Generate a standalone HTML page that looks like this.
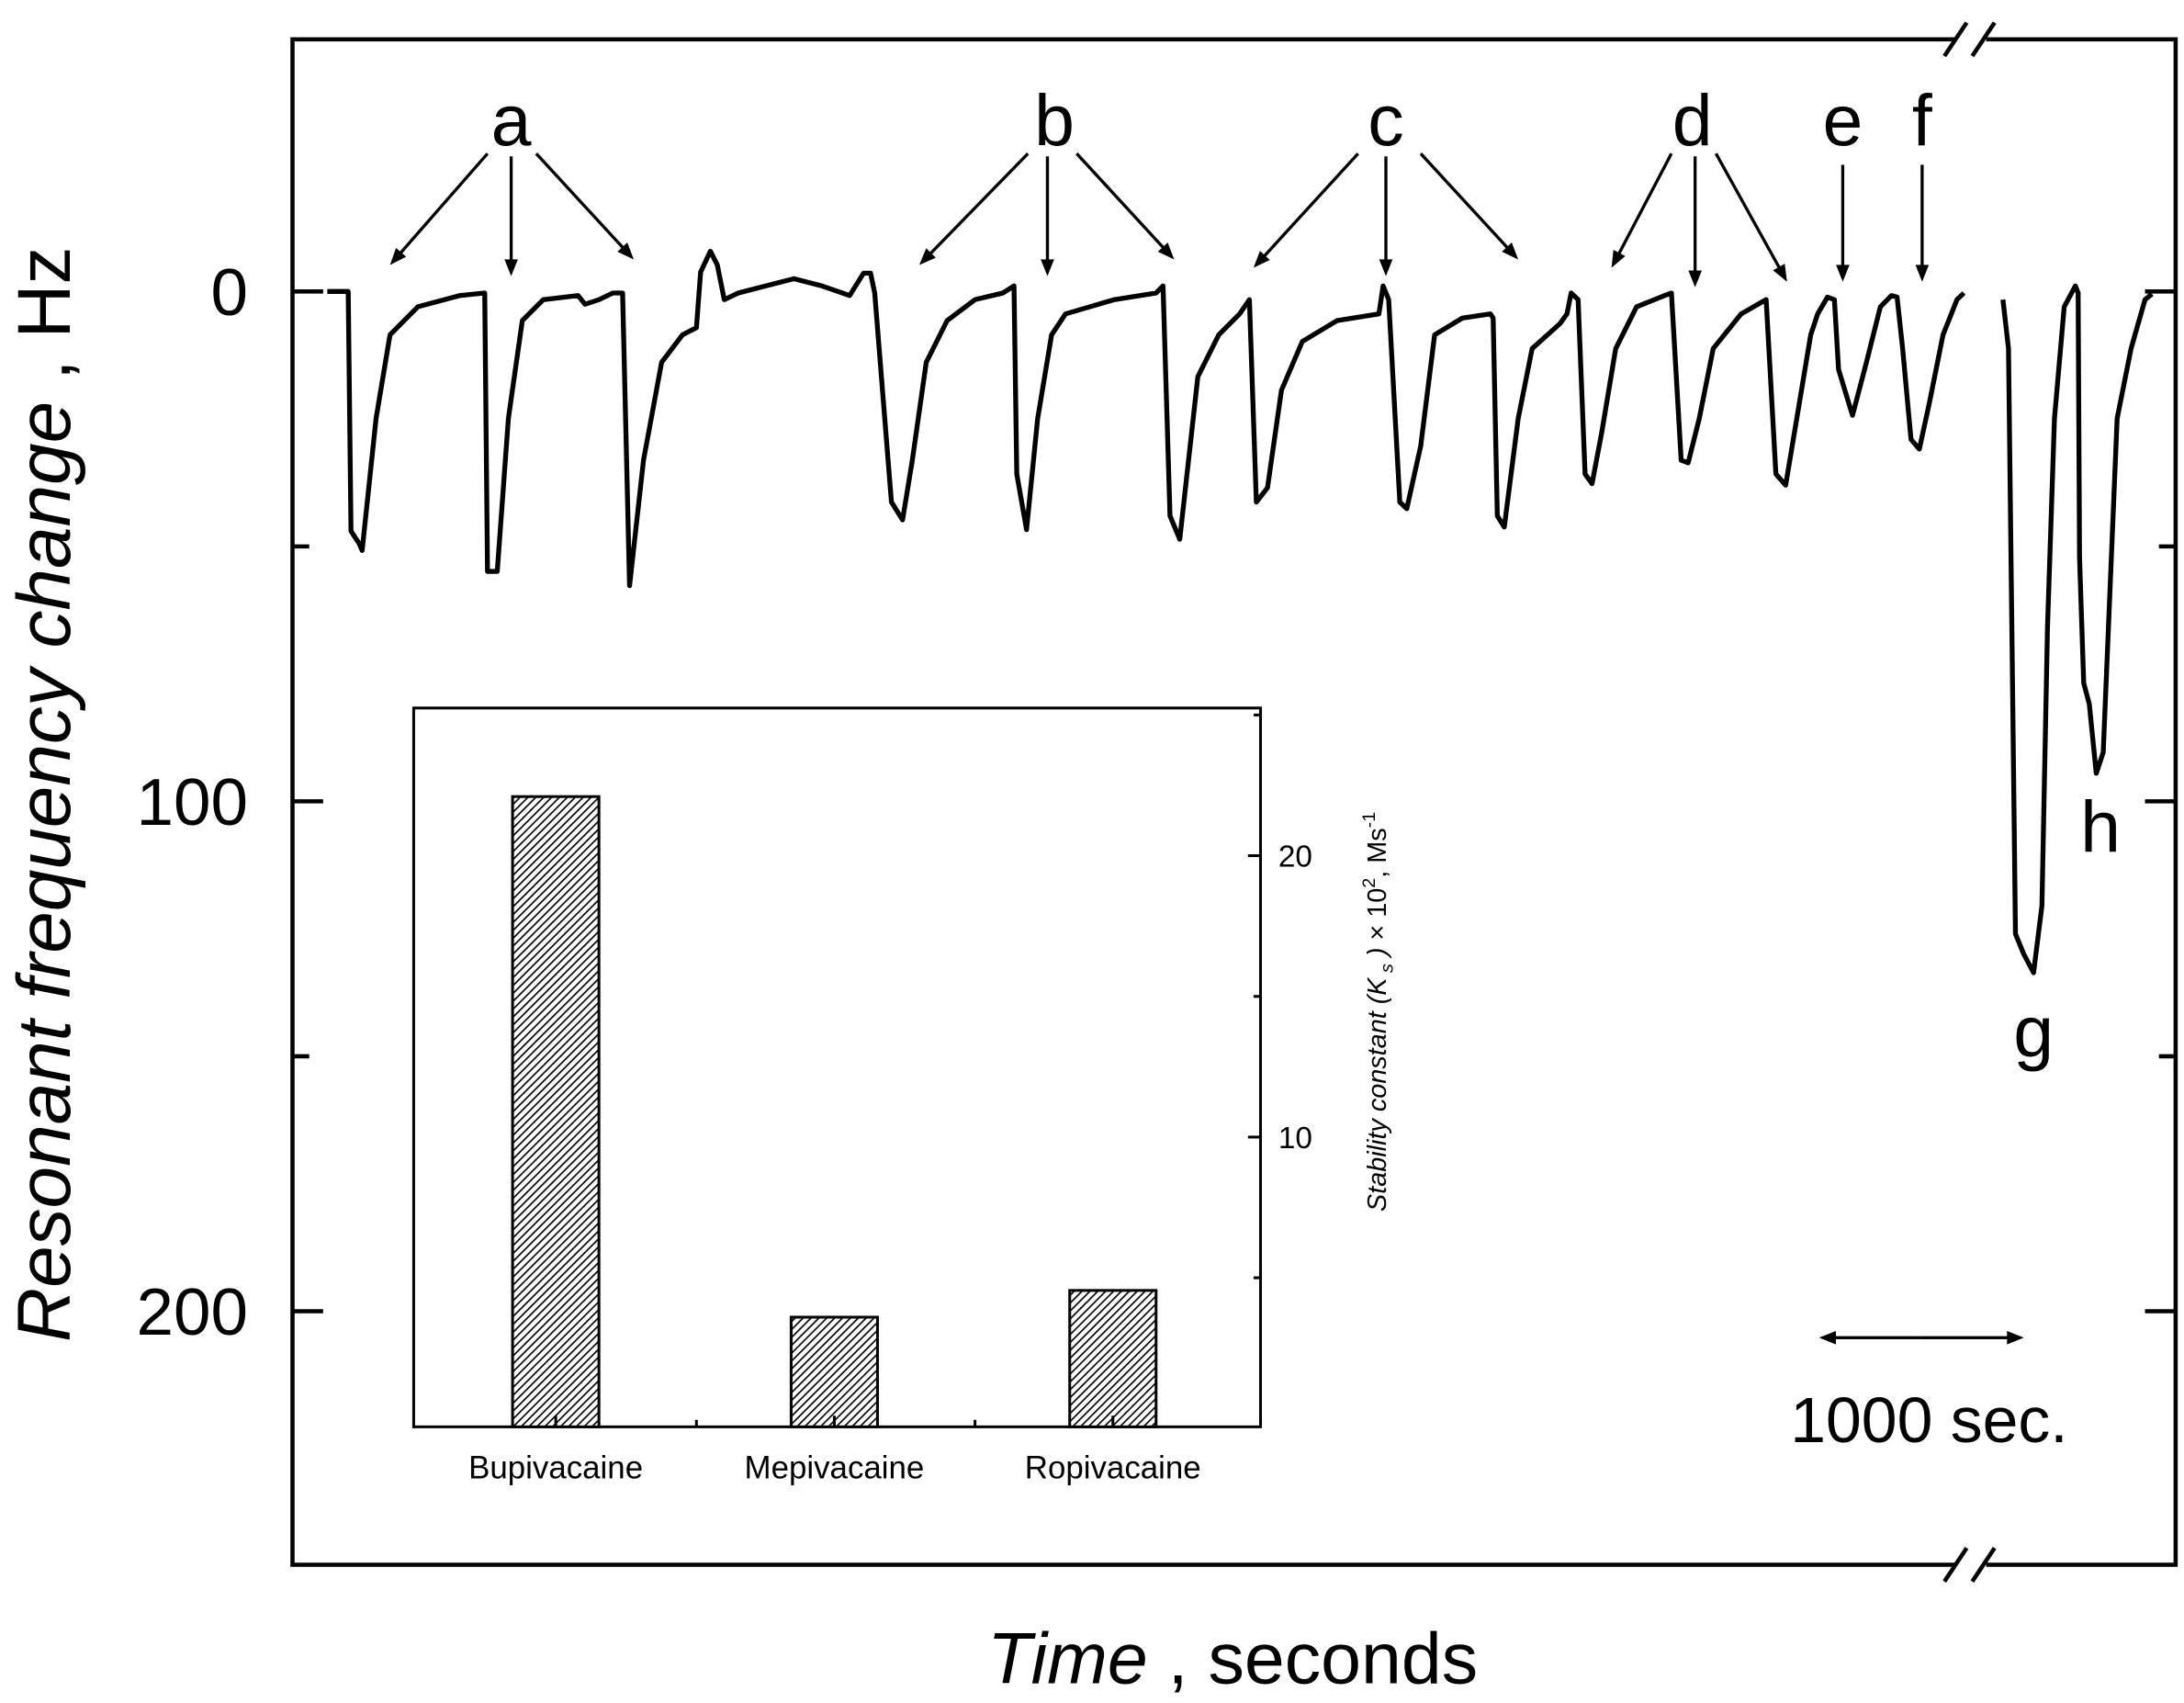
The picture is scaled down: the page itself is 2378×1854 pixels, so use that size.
<!DOCTYPE html>
<html><head><meta charset="utf-8"><style>
html,body{margin:0;padding:0;background:#fff;}
svg{display:block;}
text{font-family:"Liberation Sans",Arial,sans-serif;fill:#000;}
</style></head><body>
<svg id="chart" width="2378" height="1854" viewBox="0 0 1568 1222" xmlns="http://www.w3.org/2000/svg">
<rect width="1568" height="1222" fill="#fff"/>
<defs>
<pattern id="hatch" patternUnits="userSpaceOnUse" width="4" height="4" patternTransform="rotate(45)">
<rect width="4" height="4" fill="#fff"/><line x1="0" y1="0" x2="0" y2="4" stroke="#000" stroke-width="2.2"/>
</pattern>
</defs>
<g id="frame">
<rect x="210" y="28" width="1352" height="1095" fill="none" stroke="#000" stroke-width="3"/>
</g>
<g id="axes"></g>
<g id="trace"></g>
<g id="inset"></g>
<g id="annot"></g>
<text transform="translate(50,570) rotate(-90)" text-anchor="middle" font-size="54"><tspan font-style="italic">Resonant frequency change</tspan> , Hz</text>
<text x="885" y="1208" text-anchor="middle" font-size="52"><tspan font-style="italic">Time</tspan> , seconds</text>
</svg>
<script>
const NS='http://www.w3.org/2000/svg';
// main chart data
const yTicks=[0,100,200];
const yMinor=[50,150,250];
const seg1T=[0,15,17,23,25,35,45,65,95,113,115,122,130,140,155,180,185,195,205,212,217,227,240,255,265,268,275,280,285,295,315,335,355,375,385,390,393,405,413,420,430,445,465,485,493,495,502,510,520,530,565,595,600,605,612,625,640,655,662,667,675,685,700,725,755,758,762,770,775,785,795,815,835,837,840,845,855,865,885,890,893,898,903,908,915,925,940,960,965,972,977,985,995,1015,1033,1040,1047,1055,1065,1070,1077,1082,1085,1095,1105,1115,1123,1127,1131,1137,1143,1150,1160,1170,1175];
const seg1Hz=[0,0,47,49.5,50.8,24.9,8.5,3,0.8,0.3,54.9,54.9,24.9,5.7,1.6,0.8,2.5,1.6,0.3,0.3,57.7,33.1,13.9,8.5,7.1,-3.8,-7.9,-5.2,1.6,0.3,-1.1,-2.5,-1.1,0.8,-3.6,-3.6,0.3,41.3,44.8,33.1,13.9,5.7,1.6,0.3,-1.1,35.8,46.7,24.9,8.5,4.4,1.6,0.3,-1.1,44,48.6,16.7,8.5,4.4,1.6,41.3,38.5,19.4,9.8,5.7,4.4,-1.1,1.6,41.3,42.6,30.3,8.5,5.2,4.4,5.2,44,46.2,24.9,11.2,6.3,4.4,0.3,1.6,35.8,37.7,27.6,11.2,3,0.8,0.3,33.1,33.6,24.9,11.2,4.4,1.6,35.8,38,24.9,8.5,4.4,1.1,1.6,15.3,24.3,13.9,3,0.8,1.1,11.2,29,30.9,22.1,8.5,1.6,0.3];
const seg2T=[1203,1207,1210,1212,1218,1225,1231,1235,1240,1247,1255,1257,1258,1261,1265,1270,1275,1280,1285,1295,1305,1310];
const seg2Hz=[1.6,11.2,79.5,126,130,133.6,120.5,65.8,24.9,3,-1.1,0.3,52.2,76.8,80.9,94.5,90.4,57.7,24.9,11.2,1.6,0.5];
// inset data
const insetCats=['Bupivacaine','Mepivacaine','Ropivacaine'];
const insetVals=[22.1,3.6,4.55];
const insetTicks=[10,20];
const insetMinor=[5,15,25];

const X=t=>235+t;
const Y=h=>209+h*3.66;
function el(tag,attrs,parent,txt){const e=document.createElementNS(NS,tag);for(const k in attrs)e.setAttribute(k,attrs[k]);if(txt!==undefined)e.textContent=txt;parent.appendChild(e);return e;}

const axes=document.getElementById('axes');
yTicks.forEach(v=>{
 const l=el('line',{x1:210,x2:232,y1:Y(v),y2:Y(v),stroke:'#000','stroke-width':3},axes);
 
 
 const r=el('line',{x1:1540,x2:1562,y1:Y(v),y2:Y(v),stroke:'#000','stroke-width':3},axes);
 
 
 const t=el('text',{x:178,y:Y(v)+17,'text-anchor':'end','font-size':48},axes,String(v));
 
 
});
yMinor.forEach(v=>{
 if(Y(v)>1120)return;
 const l=el('line',{x1:210,x2:222,y1:Y(v),y2:Y(v),stroke:'#000','stroke-width':3},axes);
 
 
 const r=el('line',{x1:1550,x2:1562,y1:Y(v),y2:Y(v),stroke:'#000','stroke-width':3},axes);
 
 
});
// break marks
[28,1123].forEach(yy=>{
 const g=el('g',{},axes);
 
 
 el('rect',{x:1404,y:yy-4,width:22,height:8,fill:'#fff'},g);
 el('line',{x1:1396,y1:yy+12,x2:1412,y2:yy-12,stroke:'#000','stroke-width':3},g);
 el('line',{x1:1416,y1:yy+12,x2:1432,y2:yy-12,stroke:'#000','stroke-width':3},g);
});

const tr=document.getElementById('trace');
[[seg1T,seg1Hz],[seg2T,seg2Hz]].forEach(([ts,hs],i)=>{
 const d=ts.map((t,j)=>(j?'L':'M')+X(t)+' '+Y(hs[j])).join(' ');
 const p=el('path',{d:d,fill:'none',stroke:'#000','stroke-width':3.5,'stroke-linejoin':'round'},tr);
 
 
});

// annotations
const an=document.getElementById('annot');
function arrow(x1,y1,x2,y2){
 const g=el('g',{},an);
 
 
 const a=Math.atan2(y2-y1,x2-x1),L=13,w=0.38;
 el('line',{x1:x1,y1:y1,x2:x2-Math.cos(a)*8,y2:y2-Math.sin(a)*8,stroke:'#000','stroke-width':2.2},g);
 el('polygon',{points:`${x2},${y2} ${x2-L*Math.cos(a-w)},${y2-L*Math.sin(a-w)} ${x2-L*Math.cos(a+w)},${y2-L*Math.sin(a+w)}`,fill:'#000'},g);
}
const labels=[['a',367,104],['b',757,104],['c',995,104],['d',1215,104],['e',1323,104],['f',1380,104],['g',1460,758],['h',1508,611]];
labels.forEach(([s,x,y])=>{
 const t=el('text',{x:x,y:y,'text-anchor':'middle','font-size':52},an,s);
 
 
});
[[350,110,280,190],[367,112,367,198],[385,110,455,186],
 [738,110,660,190],[752,112,752,198],[773,110,843,186],
 [975,110,900,192],[995,112,995,198],[1020,110,1090,186],
 [1200,110,1157,192],[1217,112,1217,206],[1232,110,1283,202],
 [1323,118,1323,202],[1380,118,1380,202]].forEach(a=>arrow(...a));
// scale bar
arrow(1380,960,1306,960);arrow(1380,960,1453,960);
const sb=el('text',{x:1385,y:1035,'text-anchor':'middle','font-size':46},an,'1000 sec.');



// inset
const ins=document.getElementById('inset');


const L0=297,R0=905,T0=508,B0=1024;
const IY=v=>1018-v*20.2;
const IX=i=>399+i*200;
el('rect',{x:L0,y:T0,width:R0-L0,height:B0-T0,fill:'#fff',stroke:'#000','stroke-width':2},ins);
insetCats.forEach((c,i)=>{
 const b=el('rect',{x:IX(i)-31,y:IY(insetVals[i]),width:62,height:B0-IY(insetVals[i]),fill:'url(#hatch)',stroke:'#000','stroke-width':2},ins);
 
 
 const t=el('text',{x:IX(i),y:1061,'text-anchor':'middle','font-size':23},ins,c);
 
 
 const tk=el('line',{x1:IX(i),x2:IX(i),y1:B0,y2:B0-8,stroke:'#000','stroke-width':2},ins);
 
 
});
[500,700].forEach(x=>{
 const tk=el('line',{x1:x,x2:x,y1:B0,y2:B0-5,stroke:'#000','stroke-width':2},ins);
 
 
});
insetTicks.forEach(v=>{
 const l=el('line',{x1:R0,x2:R0-9,y1:IY(v),y2:IY(v),stroke:'#000','stroke-width':2},ins);
 
 
 const t=el('text',{x:930,y:IY(v)+8,'text-anchor':'middle','font-size':22},ins,String(v));
 
 
});
insetMinor.forEach(v=>{
 const l=el('line',{x1:R0,x2:R0-5,y1:IY(v),y2:IY(v),stroke:'#000','stroke-width':2},ins);
 
 
});
const yt=el('text',{transform:'translate(995,726) rotate(-90)','text-anchor':'middle','font-size':19},ins);


yt.innerHTML='<tspan font-style="italic">Stability constant (K</tspan><tspan font-style="italic" font-size="13" dy="5"> s</tspan><tspan font-style="italic" dy="-5"> )</tspan> × 10<tspan font-size="13" dy="-8">2</tspan><tspan dy="8">, Ms</tspan><tspan font-size="13" dy="-8">-1</tspan>';
</script>
</body></html>
